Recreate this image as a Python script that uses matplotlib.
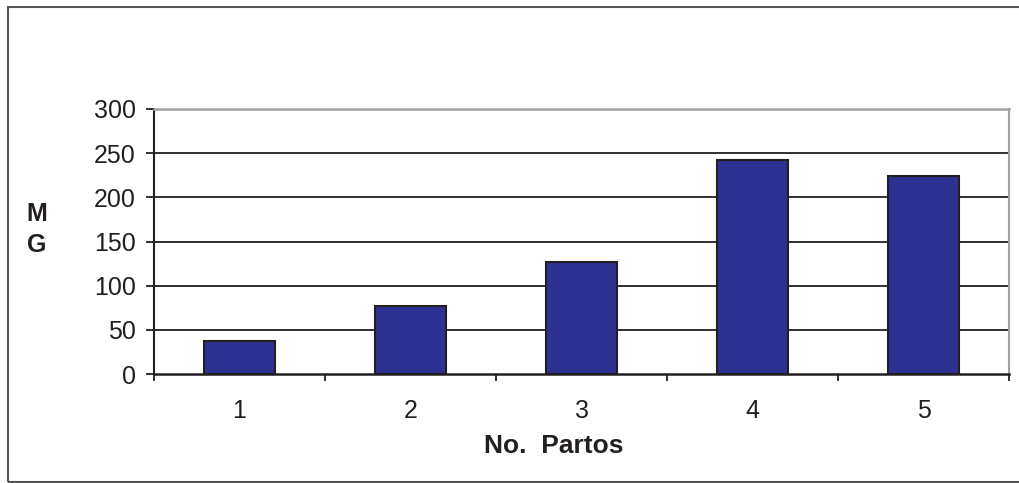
import numpy as np
import matplotlib
import matplotlib.pyplot as plt
from matplotlib.patches import Rectangle

matplotlib.use('agg')

plt.rcParams['font.family'] = ['Liberation Sans', 'DejaVu Sans']

partos = [1, 2, 3, 4, 5]
mg = [37, 77, 127, 242, 224]
yticks = [0, 50, 100, 150, 200, 250, 300]

ink = "#231f20"
barcolor = "#2e3192"
W, H = 1019, 483

fig = plt.figure(figsize=[W / 100, H / 100], dpi=100)
ax = fig.add_axes([154 / W, 1 - 374 / H, (1009 - 154) / W, (374 - 109) / H])

# gridlines at each 50, the 300 line is the grey plot border
for v in yticks[1:-1]:
    ax.axhline(v, color=ink, lw=1.3, zorder=1)

ax.bar(partos, mg, width=0.41, color=barcolor, edgecolor=ink, linewidth=1.5, zorder=3)

ax.set_xlim(0.5, 5.5)
ax.set_ylim(0, 300)

ax.set_yticks(yticks)
ax.set_yticklabels([str(v) for v in yticks], fontsize=18, color=ink)
ax.tick_params(axis='y', length=6, width=1.3, color=ink, pad=7)

# category boundaries carry the ticks, labels sit at bar centres
ax.set_xticks(np.arange(0.5, 6.0, 1.0))
ax.set_xticklabels([])
ax.set_xticks(partos, minor=True)
ax.set_xticklabels([str(p) for p in partos], minor=True, fontsize=18, color=ink)
ax.tick_params(axis='x', which='major', length=5, width=1.3, color=ink)
ax.tick_params(axis='x', which='minor', length=0, pad=18)

ax.spines['left'].set_color(ink)
ax.spines['left'].set_linewidth(1.5)
ax.spines['bottom'].set_color(ink)
ax.spines['bottom'].set_linewidth(1.8)
ax.spines['top'].set_color("#a0a0a0")
ax.spines['top'].set_linewidth(1.8)
ax.spines['right'].set_color("#a0a0a0")
ax.spines['right'].set_linewidth(1.5)

fig.text(554 / W, 1 - 446 / H, "No.  Partos", fontsize=19, fontweight='bold',
         color=ink, ha='center', va='center')

fig.text(37 / W, 1 - 214 / H, "M", fontsize=18, fontweight='bold', color=ink, ha='center', va='center')
fig.text(37 / W, 1 - 245 / H, "G", fontsize=18, fontweight='bold', color=ink, ha='center', va='center')

# outer chart frame, its right edge runs past the canvas
fig.patches.append(Rectangle((8 / W, 1 / H), 1030 / W, 475 / H,
                             transform=fig.transFigure, fill=False,
                             edgecolor="#555555", linewidth=1.5))

plt.savefig("out.png", dpi=100)
plt.close()
